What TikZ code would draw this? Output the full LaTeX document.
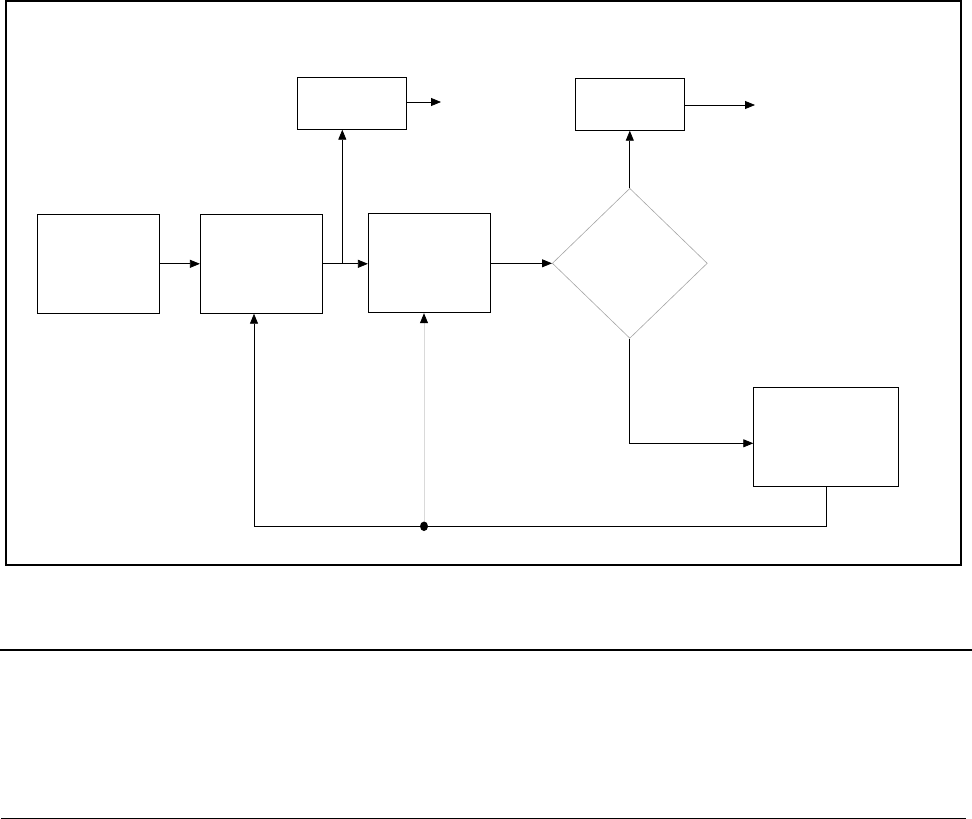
\documentclass[tikz,border=0pt]{standalone}
\usepackage{xcolor}
\usepackage{tikz}
\usetikzlibrary{arrows.meta,shapes.geometric}

\tikzset{
    blockbox/.style={draw, line width=0.8pt, minimum width=#1, inner sep=0pt},
    arr/.style={line width=0.8pt, -{Triangle[length=10pt,width=8pt]}},
}

\begin{document}
\begin{tikzpicture}[x=1pt,y=-1pt]
    \useasboundingbox (0,0) rectangle (972,819);
    \draw[line width=2.5pt] (6,1) rectangle (961,565);
    \draw[line width=2.5pt] (0,650) -- (972,650);
    \draw[line width=1.2pt] (1,818.5) -- (966,818.5);

    % blocks
    \node[blockbox=122pt, minimum height=99pt] (src) at (98.3,263.8) {};
    \node[blockbox=122pt, minimum height=99pt] (proc) at (261.3,263.8) {};
    \node[blockbox=122pt, minimum height=99pt] (ctrl) at (429.3,263.3) {};
    \node[blockbox=109pt, minimum height=52pt] (outa) at (351.8,103.3) {};
    \node[blockbox=109pt, minimum height=52pt] (outb) at (629.8,104.3) {};
    \node[blockbox=145pt, minimum height=99pt] (fix) at (826.2,436.8) {};
    \node[diamond, draw=gray!70, line width=0.6pt, inner sep=0pt,
          minimum width=155pt, minimum height=150pt, aspect=1.03] (test) at (629.8,263.3) {};

    \coordinate (split) at (342.3,263.8);
    \coordinate (enda) at (441,102);
    \coordinate (endb) at (755,105);
    \coordinate (turn) at (629.8,443.3);
    \coordinate (back) at (254,526.3);
    \coordinate (tap) at (424,526.3);

    \draw[arr] (src.east) -- (proc.west);
    \draw[arr] (proc.east) -- (ctrl.west |- proc.east);
    \draw[arr] (split) -- (split |- outa.south);
    \draw[arr] (outa.east |- enda) -- (enda);
    \draw[arr] (ctrl.east) -- (ctrl.east -| test.west);
    \draw[arr] (test.north) -- (test.north |- outb.south);
    \draw[arr] (outb.east |- endb) -- (endb);
    \draw[arr] (test.south) -- (turn) -- (turn -| fix.west);
    \draw[arr] (fix.south) |- (back) -- (back |- proc.south);
    \draw[draw=gray!30, line width=0.8pt, -{Triangle[length=10pt,width=8pt,black]}]
        (tap) -- (tap |- ctrl.south);
    \fill (tap) ellipse (4pt and 4.8pt);
\end{tikzpicture}
\end{document}
